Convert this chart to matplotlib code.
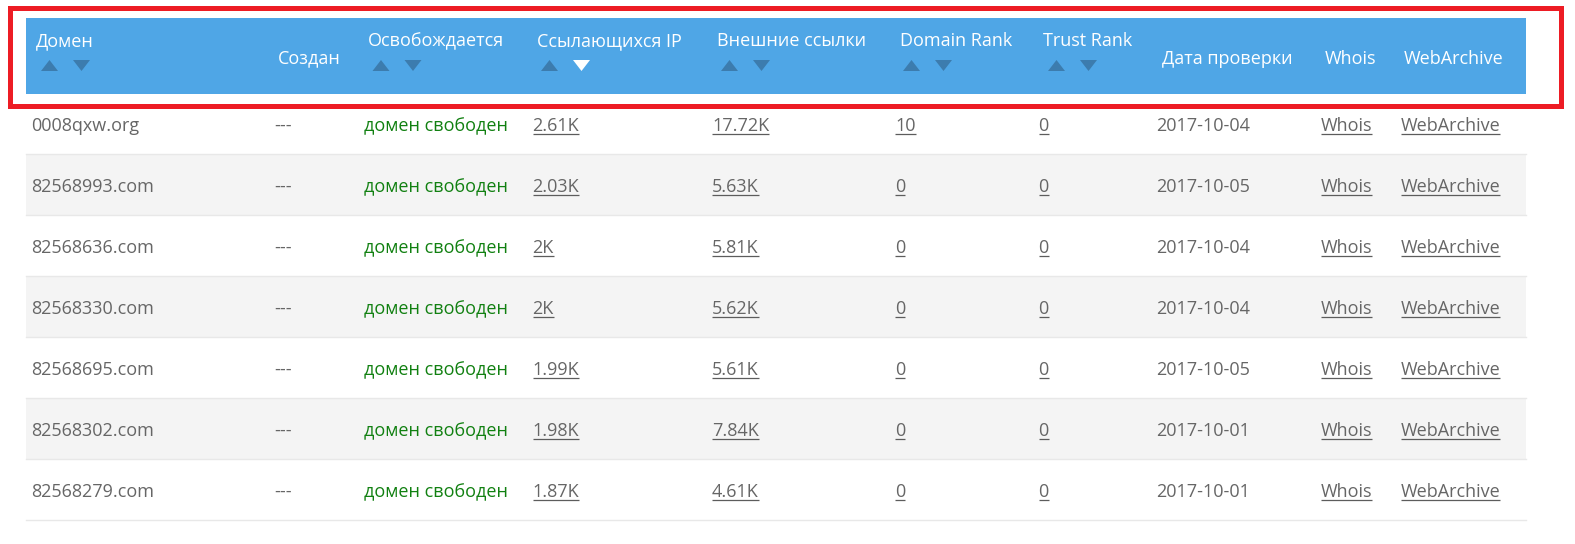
import matplotlib
matplotlib.use('Agg')
import matplotlib.pyplot as plt
from matplotlib.patches import Rectangle, Polygon

plt.rcParams['font.family'] = ['Open Sans', 'DejaVu Sans']

headers = ['Домен', 'Создан', 'Освобождается', 'Ссылающихся IP', 'Внешние ссылки',
           'Domain Rank', 'Trust Rank', 'Дата проверки', 'Whois', 'WebArchive']
domains = ['0008qxw.org', '82568993.com', '82568636.com', '82568330.com',
           '82568695.com', '82568302.com', '82568279.com']
created = ['---'] * 7
status = ['домен свободен'] * 7
ref_ips = ['2.61K', '2.03K', '2K', '2K', '1.99K', '1.98K', '1.87K']
ext_links = ['17.72K', '5.63K', '5.81K', '5.62K', '5.61K', '7.84K', '4.61K']
domain_rank = ['10', '0', '0', '0', '0', '0', '0']
trust_rank = ['0', '0', '0', '0', '0', '0', '0']
checked = ['2017-10-04', '2017-10-05', '2017-10-04', '2017-10-04',
           '2017-10-05', '2017-10-01', '2017-10-01']
whois = ['Whois'] * 7
archive = ['WebArchive'] * 7

W, H = 1575, 544
LEFT, RIGHT = 26, 1526
HEAD_TOP, HEAD_BOTTOM = 18, 94
ROW_H = 61.0
FS = 13
TEXT_C = '#666666'
GREEN = '#118011'
ARROW = '#3c7cae'

# column text positions in pixels
head_x = [36, 278, 368, 537, 717, 900, 1043, 1161.5, 1324.5, 1403.5]
cell_x = [31.5, 274, 364.5, 532.5, 712, 895, 1038.5, 1156.5, 1320.5, 1400.5]
sortable = [0, 2, 3, 4, 5, 6]
arrow_x = {0: 49.5, 2: 381, 3: 549.5, 4: 729.5, 5: 911.5, 6: 1056.5}
active_down = 3

fig = plt.figure(figsize=(W / 100, H / 100), dpi=100)
ax = fig.add_axes([0, 0, 1, 1])
ax.set_xlim(0, W)
ax.set_ylim(H, 0)
ax.axis('off')

ax.add_patch(Rectangle((LEFT, HEAD_TOP), RIGHT - LEFT, HEAD_BOTTOM - HEAD_TOP,
                       fc='#4fa6e6', ec='none', zorder=1))
ax.add_patch(Rectangle((9.5, 7.5), 1551.7, 98, fc='none', ec='#ed1c24', lw=3.6,
                       joinstyle='miter', zorder=3))

for i, label in enumerate(headers):
    y = 41 if i in sortable else 58.5
    ax.text(head_x[i], y, label, color='white', fontsize=FS, va='center', ha='left', zorder=4)

for i in sortable:
    ux = arrow_x[i]
    dx = ux + 32
    ax.add_patch(Polygon([(ux - 8.5, 71), (ux + 8.5, 71), (ux, 60)], fc=ARROW, ec='none', zorder=4))
    down_c = 'white' if i == active_down else ARROW
    ax.add_patch(Polygon([(dx - 8.5, 60), (dx + 8.5, 60), (dx, 71)], fc=down_c, ec='none', zorder=4))

columns = [domains, created, status, ref_ips, ext_links, domain_rank, trust_rank,
           checked, whois, archive]
linked = [3, 4, 5, 6, 8, 9]

fig.canvas.draw()
renderer = fig.canvas.get_renderer()

for r in range(len(domains)):
    top = 93 + r * ROW_H
    bottom = top + ROW_H
    if r % 2 == 1:
        ax.add_patch(Rectangle((LEFT, top), RIGHT - LEFT, ROW_H, fc='#f4f4f4', ec='none', zorder=0))
    ax.plot([LEFT, RIGHT], [bottom, bottom], color='#e8e8e8', lw=1, zorder=1)
    cy = top + 33
    for c, col in enumerate(columns):
        color = GREEN if c == 2 else TEXT_C
        t = ax.text(cell_x[c], cy, col[r], color=color, fontsize=FS, va='center', ha='left', zorder=2)
        if c in linked:
            box = t.get_window_extent(renderer)
            ax.plot([box.x0, box.x1], [cy + 8, cy + 8], color='#5c5c5c', lw=0.9, zorder=2,
                    solid_capstyle='butt')

fig.savefig('out.png', dpi=100)
